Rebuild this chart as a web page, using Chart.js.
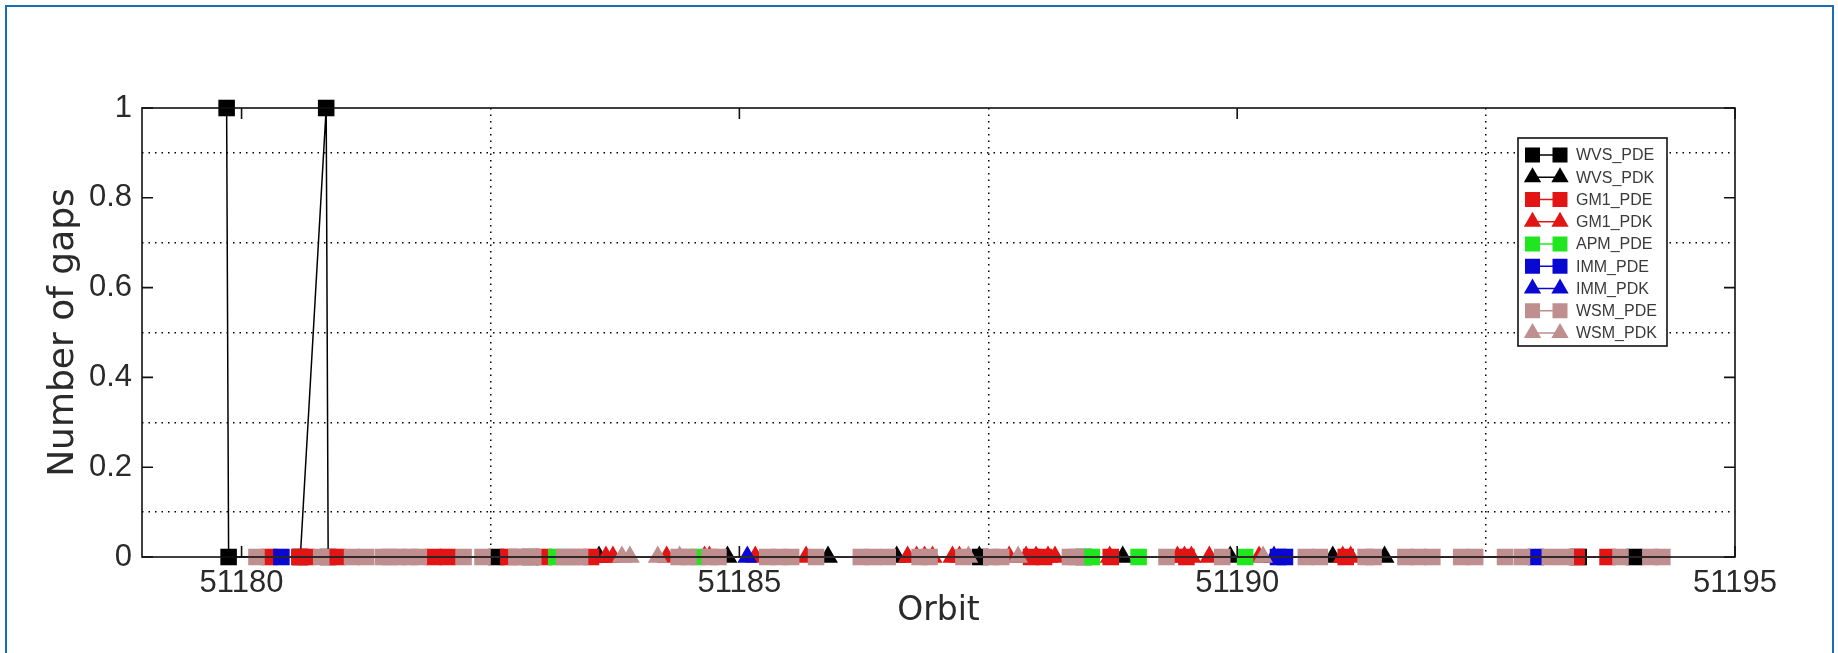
<!DOCTYPE html>
<html><head><meta charset="utf-8">
<script src="https://cdn.jsdelivr.net/npm/chart.js@4"></script>
<style>
html,body{margin:0;padding:0;background:#fff;}
#wrap{position:relative;width:1838px;height:653px;overflow:hidden;background:#fff;}
#frame{position:absolute;left:5px;top:5px;width:1829px;height:700px;border:2.5px solid #1a6cb4;box-sizing:border-box;}
canvas{position:absolute;left:0;top:0;}
</style></head><body>
<div id="wrap"><div id="frame"></div><canvas id="c" width="1838" height="653"></canvas></div>
<script>
// ---- axis / tick data ----
const xMin = 51179, xMax = 51195;
const xTicks = [51180, 51185, 51190, 51195];
const xTickLabels = ['51180', '51185', '51190', '51195'];
const yTicks = [0, 0.2, 0.4, 0.6, 0.8, 1];
const yTickLabels = ['0', '0.2', '0.4', '0.6', '0.8', '1'];
const xGrid = [51182.5, 51187.5, 51192.5];
const yGrid = [0.1, 0.3, 0.5, 0.7, 0.9];
const seriesNames = ['WVS_PDE','WVS_PDK','GM1_PDE','GM1_PDK','APM_PDE','IMM_PDE','IMM_PDK','WSM_PDE','WSM_PDK'];

// ---- series values (orbit, number of gaps) ----
const wvsPdeX = [51179.85, 51179.87, 51180.59, 51180.85, 51180.87, 51182.56, 51182.90, 51187.42, 51188.46, 51193.43, 51193.99];
const wvsPdeY = [1, 0, 0, 1, 0, 0, 0, 0, 0, 0, 0];
const wvsPdkX = [51183.59, 51184.88, 51185.89, 51186.58, 51187.41, 51188.85, 51189.93, 51190.96, 51191.48];
const wvsPdkY = [0, 0, 0, 0, 0, 0, 0, 0, 0];
const gm1PdeX = [51180.28, 51180.58, 51180.65, 51180.96, 51181.93, 51182.07, 51182.68, 51183.04, 51183.51, 51187.93, 51188.06, 51188.73, 51189.49, 51191.09, 51193.41, 51193.72];
const gm1PdeY = [0, 0, 0, 0, 0, 0, 0, 0, 0, 0, 0, 0, 0, 0, 0, 0];
const gm1PdkX = [51183.66, 51183.73, 51184.27, 51184.65, 51184.70, 51185.16, 51185.67, 51186.69, 51186.78, 51186.86, 51186.94, 51187.14, 51187.21, 51187.71, 51187.88, 51187.98, 51188.10, 51188.17, 51188.72, 51189.40, 51189.47, 51189.54, 51189.72, 51190.22, 51191.06, 51191.14];
const gm1PdkY = [0, 0, 0, 0, 0, 0, 0, 0, 0, 0, 0, 0, 0, 0, 0, 0, 0, 0, 0, 0, 0, 0, 0, 0, 0, 0];
const apmPdeX = [51183.16, 51184.58, 51188.54, 51189.01, 51190.08];
const apmPdeY = [0, 0, 0, 0, 0];
const immPdeX = [51180.40, 51190.41, 51190.48, 51193.00];
const immPdeY = [0, 0, 0, 0];
const immPdkX = [51185.08, 51190.37];
const immPdkY = [0, 0];
const wsmPdeX = [51180.15, 51180.80, 51181.11, 51181.25, 51181.42, 51181.49, 51181.58, 51181.69, 51181.78, 51182.23, 51182.42, 51182.76, 51182.83, 51182.93, 51183.24, 51183.33, 51183.40, 51184.39, 51184.49, 51184.70, 51184.79, 51185.28, 51185.40, 51185.52, 51185.77, 51186.22, 51186.34, 51186.49, 51186.81, 51186.91, 51187.25, 51187.53, 51187.63, 51188.32, 51188.38, 51189.29, 51189.85, 51190.69, 51190.83, 51191.29, 51191.37, 51191.69, 51191.82, 51191.96, 51192.25, 51192.39, 51192.69, 51192.86, 51193.14, 51193.30, 51193.85, 51194.15, 51194.27];
const wsmPdeY = [0,0,0,0,0,0,0,0,0,0, 0,0,0,0,0,0,0,0,0,0, 0,0,0,0,0,0,0,0,0,0, 0,0,0,0,0,0,0,0,0,0, 0,0,0,0,0,0,0,0,0,0, 0,0,0];
const wsmPdkX = [51183.82, 51183.90, 51184.18, 51184.40, 51187.30, 51187.80, 51190.26];
const wsmPdkY = [0, 0, 0, 0, 0, 0, 0];

const BLACK = '#000000', RED = '#e31414', GREEN = '#20e620', BLUE = '#0808d2', BROWN = '#bf8e8e';
const SQ_R = 11.7, TRI_R = 11.5;

function pts(xs, ys) { return xs.map((x, i) => ({ x: x, y: ys[i] })); }
function ds(label, xs, ys, color, style, order) {
  const r = style === 'rect' ? SQ_R : TRI_R;
  return {
    label: label, data: pts(xs, ys), borderColor: color, backgroundColor: color,
    pointBackgroundColor: color, pointBorderColor: color, pointStyle: style,
    pointRadius: r, pointHoverRadius: r,
    pointBorderWidth: 0, borderWidth: 1.5, showLine: true, clip: false, order: order
  };
}

const datasets = [
  ds(seriesNames[0], wvsPdeX, wvsPdeY, BLACK, 'rect', 9),
  ds(seriesNames[1], wvsPdkX, wvsPdkY, BLACK, 'triangle', 8),
  ds(seriesNames[2], gm1PdeX, gm1PdeY, RED, 'rect', 7),
  ds(seriesNames[3], gm1PdkX, gm1PdkY, RED, 'triangle', 6),
  ds(seriesNames[4], apmPdeX, apmPdeY, GREEN, 'rect', 5),
  ds(seriesNames[5], immPdeX, immPdeY, BLUE, 'rect', 4),
  ds(seriesNames[6], immPdkX, immPdkY, BLUE, 'triangle', 3),
  ds(seriesNames[7], wsmPdeX, wsmPdeY, BROWN, 'rect', 2),
  ds(seriesNames[8], wsmPdkX, wsmPdkY, BROWN, 'triangle', 1)
];

const FONT = 'Liberation Sans, Arial, sans-serif';
const TFONT = 'DejaVu Sans, Verdana, sans-serif';

function marker(ctx, style, x, y, color) {
  ctx.fillStyle = color;
  ctx.beginPath();
  if (style === 'rect') {
    ctx.rect(x - 7.5, y - 7.5, 15, 15);
  } else {
    const r = 10;
    ctx.moveTo(x, y - r);
    ctx.lineTo(x + r * Math.sin(2 * Math.PI / 3), y + r / 2);
    ctx.lineTo(x - r * Math.sin(2 * Math.PI / 3), y + r / 2);
    ctx.closePath();
  }
  ctx.fill();
}

const boxPlugin = {
  id: 'boxPlugin',
  afterDatasetsDraw(chart) {
    const ctx = chart.ctx, a = chart.chartArea, sx = chart.scales.x, sy = chart.scales.y;
    ctx.save();
    ctx.strokeStyle = '#111';
    ctx.lineWidth = 1.6;
    ctx.beginPath();
    const tl = 11;
    xTicks.forEach(v => {
      const p = sx.getPixelForValue(v);
      ctx.moveTo(p, a.bottom); ctx.lineTo(p, a.bottom - tl);
      ctx.moveTo(p, a.top); ctx.lineTo(p, a.top + tl);
    });
    yTicks.forEach(v => {
      const p = sy.getPixelForValue(v);
      ctx.moveTo(a.left, p); ctx.lineTo(a.left + tl, p);
      ctx.moveTo(a.right, p); ctx.lineTo(a.right - tl, p);
    });
    ctx.stroke();
    ctx.strokeRect(a.left, a.top, a.right - a.left, a.bottom - a.top);
    ctx.restore();
  },
  afterDraw(chart) {
    const ctx = chart.ctx, a = chart.chartArea;
    const bx = a.right - 217, by = a.top + 30, bw = 149, bh = 208;
    ctx.save();
    ctx.fillStyle = '#fff';
    ctx.fillRect(bx, by, bw, bh);
    ctx.strokeStyle = '#111';
    ctx.lineWidth = 1.6;
    ctx.strokeRect(bx, by, bw, bh);
    ctx.font = '16px ' + FONT;
    ctx.textBaseline = 'middle';
    ctx.textAlign = 'left';
    chart.data.datasets.forEach((d, i) => {
      const y = by + 17 + i * 22.25;
      const x1 = bx + 14.5, x2 = bx + 42;
      ctx.strokeStyle = d.borderColor;
      ctx.lineWidth = 1.5;
      ctx.beginPath(); ctx.moveTo(x1, y); ctx.lineTo(x2, y); ctx.stroke();
      marker(ctx, d.pointStyle, x1, y, d.borderColor);
      marker(ctx, d.pointStyle, x2, y, d.borderColor);
      ctx.fillStyle = '#3a3a3a';
      ctx.fillText(d.label, bx + 58, y + 1);
    });
    ctx.restore();
  }
};

const dotted = { color: '#000', lineWidth: 1.5, drawTicks: false };

new Chart(document.getElementById('c'), {
  type: 'scatter',
  data: { datasets: datasets },
  options: {
    responsive: false, animation: false, devicePixelRatio: 1, events: [],
    layout: { padding: { left: 0, right: 103, top: 108, bottom: 0 } },
    plugins: { legend: { display: false }, tooltip: { enabled: false } },
    scales: {
      x: {
        type: 'linear', position: 'bottom', min: xMin, max: xMax,
        afterBuildTicks: s => { s.ticks = xTicks.map(v => ({ value: v })); },
        afterFit: s => { s.height = 96; },
        ticks: { autoSkip: false, maxRotation: 0, padding: 8, color: '#2a2a2a',
          font: { family: FONT, size: 31 }, callback: (v, i) => xTickLabels[i] },
        grid: { display: false, drawTicks: false }, border: { display: false },
        title: { display: true, text: 'Orbit', color: '#2a2a2a', font: { family: TFONT, size: 33 }, padding: { top: 0, bottom: 22 } }
      },
      y: {
        type: 'linear', position: 'left', min: 0, max: 1,
        afterBuildTicks: s => { s.ticks = yTicks.map(v => ({ value: v })); },
        afterFit: s => { s.width = 142; },
        ticks: { autoSkip: false, padding: 10, color: '#2a2a2a',
          font: { family: FONT, size: 31 }, callback: (v, i) => yTickLabels[i] },
        grid: { display: false, drawTicks: false }, border: { display: false },
        title: { display: true, text: 'Number of gaps', color: '#2a2a2a', font: { family: TFONT, size: 36 }, padding: { top: 42, bottom: 0 } }
      },
      x2: {
        type: 'linear', position: 'top', min: xMin, max: xMax,
        afterBuildTicks: s => { s.ticks = xGrid.map(v => ({ value: v })); },
        afterFit: s => { s.height = 0; },
        ticks: { display: false },
        grid: dotted,
        border: { display: false, dash: [1.5, 5] }
      },
      y2: {
        type: 'linear', position: 'right', min: 0, max: 1,
        afterBuildTicks: s => { s.ticks = yGrid.map(v => ({ value: v })); },
        afterFit: s => { s.width = 0; },
        ticks: { display: false },
        grid: dotted,
        border: { display: false, dash: [1.5, 5] }
      }
    }
  },
  plugins: [boxPlugin]
});
</script>
</body></html>
